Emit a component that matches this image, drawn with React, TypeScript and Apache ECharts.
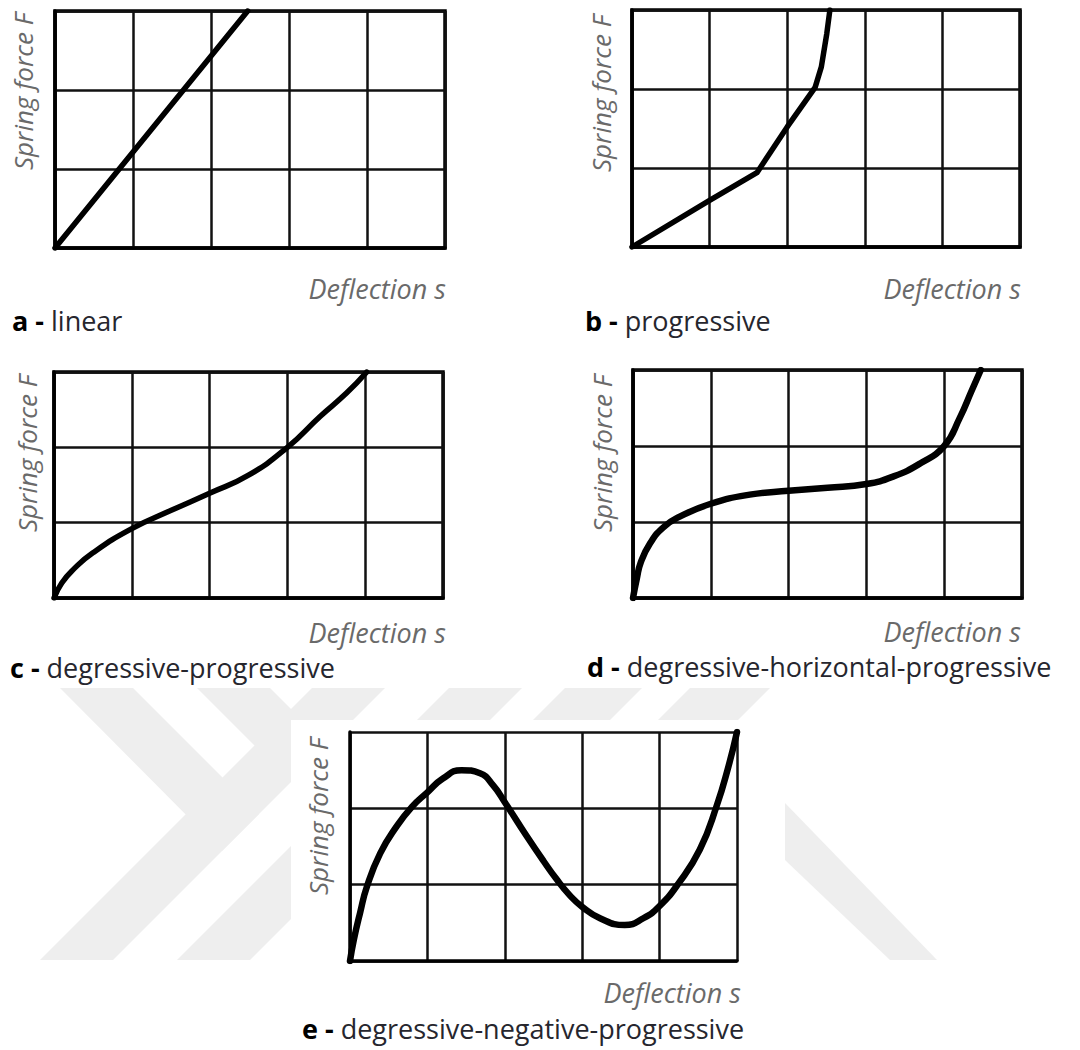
import React, { useEffect, useRef } from "react";
import * as echarts from "echarts";

// ---- data (deflection in grid units 0..5, force in grid units 0..3) ----
const X_MAX = 5;
const Y_MAX = 3;

const linearData: number[][] = [[0, 0], [2.47, 3]];
const progressiveData: number[][] = [
  [0, 0], [1, 0.59], [1.61, 0.94], [2, 1.52], [2.36, 2.02], [2.44, 2.28], [2.51, 2.7], [2.55, 3],
];
const degProgData: number[][] = [
  [0, 0], [0.1, 0.2], [0.25, 0.38], [0.5, 0.6], [1, 0.92], [1.5, 1.16], [2, 1.39], [2.5, 1.63],
  [3, 2.0], [3.42, 2.41], [3.76, 2.72], [4.02, 3],
];
const degHorProgData: number[][] = [
  [0, 0], [0.05, 0.26], [0.1, 0.47], [0.22, 0.72], [0.39, 0.93], [0.6, 1.07], [1, 1.24], [1.5, 1.36],
  [2, 1.41], [2.5, 1.45], [3, 1.5], [3.35, 1.6], [3.69, 1.77], [4, 2.0], [4.2, 2.37], [4.35, 2.72], [4.47, 3],
];
const degNegProgData: number[][] = [
  [0, 0], [0.05, 0.28], [0.13, 0.63], [0.22, 0.98], [0.39, 1.41], [0.6, 1.76], [0.8, 2.02], [1, 2.21],
  [1.2, 2.39], [1.44, 2.5], [1.68, 2.46], [1.85, 2.3], [2, 2.08], [2.28, 1.64], [2.5, 1.31],
  [2.67, 1.07], [2.84, 0.86], [3, 0.71], [3.23, 0.56], [3.55, 0.47], [3.79, 0.56], [4, 0.72],
  [4.24, 1.01], [4.52, 1.46], [4.74, 2.04], [4.89, 2.55], [5, 3],
];

const seriesData = [linearData, progressiveData, degProgData, degHorProgData, degNegProgData];
const captionLetters = ["a", "b", "c", "d", "e"];
const captionNames = [
  "linear",
  "progressive",
  "degressive-progressive",
  "degressive-horizontal-progressive",
  "degressive-negative-progressive",
];
const yAxisTitle = "Spring force F";
const xAxisTitle = "Deflection s";

// ---- layout ----
const GRIDS = [
  { left: 55, top: 11, width: 390, height: 237 },
  { left: 632, top: 10, width: 388, height: 237 },
  { left: 54, top: 372, width: 389, height: 226 },
  { left: 633, top: 370, width: 389, height: 228 },
  { left: 350, top: 732, width: 387, height: 229 },
];
const SMOOTH = [false, false, 0.5, 0.5, 0.5];
const LINE_W = [5.5, 5.5, 5.5, 6.5, 6.5];
const CAPTION_POS = [
  { x: 12, y: 320 },
  { x: 585, y: 320 },
  { x: 10, y: 667 },
  { x: 587, y: 666 },
  { x: 302, y: 1028 },
];
const XTITLE_POS = [
  { x: 446, y: 288 },
  { x: 1021, y: 288 },
  { x: 446, y: 632 },
  { x: 1021, y: 631 },
  { x: 741, y: 992 },
];
const YTITLE_POS = [
  { x: 23, y: 170 },
  { x: 601, y: 172 },
  { x: 27, y: 532 },
  { x: 602, y: 532 },
  { x: 318, y: 895 },
];

const WATERMARK: number[][][] = [
  [[60, 688], [133, 688], [259, 814], [222, 851]],
  [[312, 688], [385, 688], [113, 960], [40, 960]],
  [[197, 688], [270, 688], [542, 960], [469, 960]],
  [[449, 688], [522, 688], [250, 960], [177, 960]],
  [[565, 688], [642, 688], [370, 960], [293, 960]],
  [[690, 688], [770, 688], [498, 960], [418, 960]],
  [[785, 803], [937, 960], [890, 960], [785, 860]],
];

const LABEL_FONT = '"Open Sans", "Noto Sans", sans-serif';

export default function App() {
  const ref = useRef<HTMLDivElement>(null);

  useEffect(() => {
    if (!ref.current) return;
    const chart = echarts.init(ref.current, undefined, { renderer: "svg" });

    const graphic: any[] = [];
    WATERMARK.forEach((pts) => {
      graphic.push({ type: "polygon", z: 1, silent: true, shape: { points: pts }, style: { fill: "#eeeeee" } });
    });
    graphic.push({
      type: "rect", z: 2, silent: true,
      shape: { x: 291, y: 720, width: 494, height: 330 },
      style: { fill: "#ffffff" },
    });
    for (let i = 0; i < 5; i++) {
      graphic.push({
        type: "text", z: 20,
        x: YTITLE_POS[i].x, y: YTITLE_POS[i].y, rotation: Math.PI / 2,
        style: {
          text: yAxisTitle, fill: "#6a6a6a",
          font: `italic 26px ${LABEL_FONT}`,
          textAlign: "left", textVerticalAlign: "middle",
        },
      });
      graphic.push({
        type: "text", z: 20,
        x: XTITLE_POS[i].x, y: XTITLE_POS[i].y,
        style: {
          text: xAxisTitle, fill: "#6a6a6a",
          font: `italic 27px ${LABEL_FONT}`,
          textAlign: "right", textVerticalAlign: "middle",
        },
      });
      graphic.push({
        type: "text", z: 20,
        x: CAPTION_POS[i].x, y: CAPTION_POS[i].y,
        style: {
          text: `{b|${captionLetters[i]} -} {r|${captionNames[i]}}`,
          textAlign: "left", textVerticalAlign: "middle",
          font: `27px ${LABEL_FONT}`,
          rich: {
            b: { fill: "#000000", fontWeight: "bold", fontSize: 27, fontFamily: LABEL_FONT },
            r: { fill: "#26262e", fontWeight: "normal", fontSize: 27, fontFamily: LABEL_FONT },
          },
        },
      });
    }

    const axisCommon = {
      type: "value" as const,
      axisTick: { show: false },
      axisLabel: { show: false },
      axisLine: { show: true, onZero: false, lineStyle: { color: "#000", width: 3.5 } },
      splitLine: { show: true, lineStyle: { color: "#111", width: 2.5 } },
      z: 5,
    };

    chart.setOption({
      animation: false,
      backgroundColor: "#ffffff",
      grid: GRIDS.map((g) => ({
        ...g, show: true, borderColor: "#000", borderWidth: 3.5,
        backgroundColor: "transparent", containLabel: false,
      })),
      xAxis: GRIDS.map((_, i) => ({ ...axisCommon, gridIndex: i, min: 0, max: X_MAX, interval: 1 })),
      yAxis: GRIDS.map((_, i) => ({ ...axisCommon, gridIndex: i, min: 0, max: Y_MAX, interval: 1 })),
      series: seriesData.map((d, i) => ({
        type: "line",
        xAxisIndex: i,
        yAxisIndex: i,
        data: d,
        smooth: SMOOTH[i],
        symbol: "none",
        showSymbol: false,
        lineStyle: { color: "#000", width: LINE_W[i], cap: "round", join: "round" },
        z: 10,
        silent: true,
      })),
      graphic,
    });

    return () => chart.dispose();
  }, []);

  return (
    <div
      ref={ref}
      style={{ position: "absolute", left: 0, top: 0, width: 1080, height: 1050, background: "#fff" }}
    />
  );
}
